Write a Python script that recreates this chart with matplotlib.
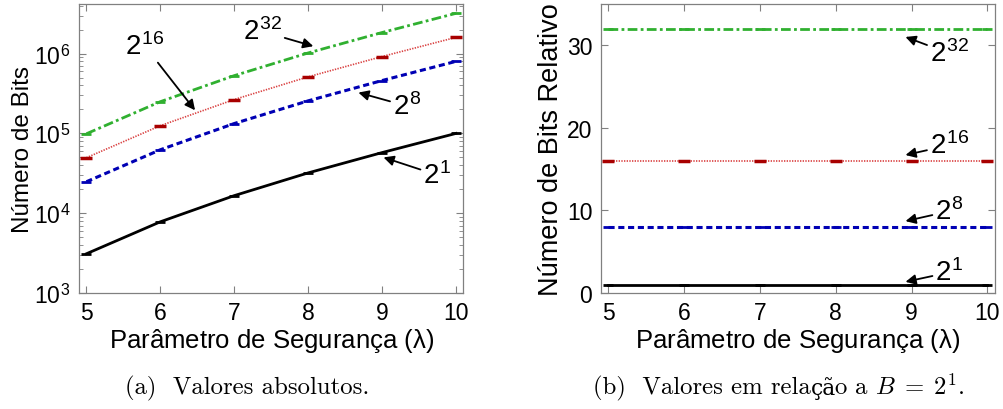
import math
import matplotlib
matplotlib.use("Agg")
import matplotlib.pyplot as plt
from matplotlib.ticker import FixedLocator, FuncFormatter, LogLocator, NullFormatter

plt.rcParams['font.family'] = ['Liberation Sans', 'DejaVu Sans']
plt.rcParams['mathtext.fontset'] = 'custom'
plt.rcParams['mathtext.rm'] = 'cmr10'
plt.rcParams['mathtext.it'] = 'cmmi10'
plt.rcParams['mathtext.sf'] = 'Liberation Sans'

# data
lam = [5, 6, 7, 8, 9, 10]
bits_b1 = [3100, 7800, 16600, 32000, 57500, 100000]
bits_b8 = [24800, 62400, 133000, 256000, 460000, 800000]
bits_b16 = [49600, 125000, 266000, 512000, 920000, 1600000]
bits_b32 = [99000, 250000, 530000, 1020000, 1840000, 3200000]
rel_b1 = [1, 1, 1, 1, 1, 1]
rel_b8 = [8, 8, 8, 8, 8, 8]
rel_b16 = [16, 16, 16, 16, 16, 16]
rel_b32 = [32, 32, 32, 32, 32, 32]
labels = ['1', '8', '16', '32']

c_black = 'black'
c_blue = '#0000b4'
c_red = '#d01010'
c_red_mk = '#a80000'
c_green = '#30b030'

fig = plt.figure(figsize=(10.04, 4.10), dpi=100)
ax1 = fig.add_axes([0.0787, 0.283, 0.3828, 0.705])
ax2 = fig.add_axes([0.5983, 0.283, 0.3927, 0.705])


def draw(ax, ys):
    y1, y8, y16, y32 = ys
    ax.plot(lam, y1, color=c_black, lw=2.0, ls='-', marker='_', ms=7, mew=2)
    ax.plot(lam, y8, color=c_blue, lw=2.2, ls=(0, (2.0, 1.2)), marker='_', ms=7, mew=2)
    ax.plot(lam, y16, color=c_red, lw=1.2, ls=(0, (0.8, 0.8)), alpha=0.8)
    ax.plot(lam, y16, color=c_red_mk, lw=0, marker='_', ms=8, mew=2.5)
    ax.plot(lam, y32, color=c_green, lw=2.0, ls=(0, (3.5, 1.2, 1.0, 1.2)), marker='_', ms=7, mew=2)


def style(ax):
    for s in ax.spines.values():
        s.set_color('#808080')
        s.set_linewidth(0.9)
    ax.tick_params(which='both', direction='in', top=True, right=True,
                   color='#808080', labelsize=16.5, pad=6)
    ax.tick_params(which='major', length=5)
    ax.tick_params(which='minor', length=3)
    ax.set_xlim(4.9, 10.1)
    ax.xaxis.set_major_locator(FixedLocator(lam))
    ax.set_xlabel('Parâmetro de Segurança ($\\mathsf{\\lambda}$)', fontsize=18.5, labelpad=1)


draw(ax1, [bits_b1, bits_b8, bits_b16, bits_b32])
ax1.set_yscale('log')
ax1.set_ylim(1e3, 4.2e6)
ax1.yaxis.set_major_locator(LogLocator(base=10))
ax1.yaxis.set_minor_locator(LogLocator(base=10, subs=range(2, 10)))
ax1.yaxis.set_minor_formatter(NullFormatter())
ax1.yaxis.set_major_formatter(FuncFormatter(
    lambda v, p: '$\\mathsf{10}^{\\mathsf{%d}}$' % round(math.log10(v))))
style(ax1)
ax1.set_ylabel('Número de Bits', fontsize=17.5, labelpad=0)

draw(ax2, [rel_b1, rel_b8, rel_b16, rel_b32])
ax2.set_ylim(0, 35)
ax2.yaxis.set_major_locator(FixedLocator([0, 10, 20, 30]))
style(ax2)
ax2.set_ylabel('Número de Bits Relativo', fontsize=19.5, labelpad=2)

arrow = dict(arrowstyle='-|>', color='black', lw=1.3, shrinkA=0, shrinkB=0,
             mutation_scale=15)


def lab(s):
    return '$\\mathsf{2}^{\\mathsf{%s}}$' % s


# left panel annotations
ax1.annotate(lab(labels[3]), xy=(8.07, 1.24e6), xytext=(7.38, 1.9e6), fontsize=20,
             ha='center', va='center', arrowprops=arrow)
ax1.annotate(lab(labels[2]), xy=(6.47, 1.95e5), xytext=(5.79, 1.25e6), fontsize=20,
             ha='center', va='center', arrowprops=arrow)
ax1.annotate(lab(labels[1]), xy=(8.68, 3.25e5), xytext=(9.34, 2.2e5), fontsize=20,
             ha='center', va='center', arrowprops=arrow)
ax1.annotate(lab(labels[0]), xy=(9.02, 5.0e4), xytext=(9.75, 3.0e4), fontsize=20,
             ha='center', va='center', arrowprops=arrow)

# right panel annotations
for s, yv, ty in [(labels[3], 31.0, 29.0), (labels[2], 16.7, 17.9),
                  (labels[1], 8.7, 9.9), (labels[0], 1.35, 2.5)]:
    ax2.annotate(lab(s), xy=(8.92, yv), xytext=(9.5, ty), fontsize=20,
                 ha='center', va='center', arrowprops=arrow)

# captions: cmr10 has no ç/ã, so those go in DejaVu Serif, pieces laid out by width
renderer = fig.canvas.get_renderer()
cap_y = 0.037
cap_size = 17.8


def caption(x, pieces):
    for txt, fam, size, trim in pieces:
        t = fig.text(x, cap_y, txt, family=fam, fontsize=size, ha='left', va='baseline')
        x += (t.get_window_extent(renderer).width - trim) / fig.bbox.width


caption(125 / 1004, [('(a)  Valores absolutos.', 'cmr10', cap_size, 0)])
caption(593 / 1004, [('(b)  Valores em rela', 'cmr10', cap_size, 0),
                     ('çã', 'DejaVu Serif', cap_size * 0.88, 2.5),
                     ('o a $B\\;=\\;2^1$.', 'cmr10', cap_size, 0)])

fig.savefig('out.png', dpi=100)
